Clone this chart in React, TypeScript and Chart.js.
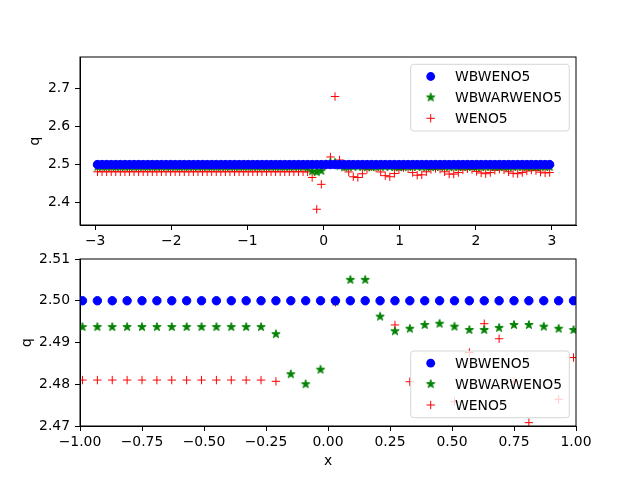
import { useEffect, useRef } from "react"
import { Chart, registerables } from "chart.js"

Chart.register(...registerables)
Chart.defaults.font.family = "'DejaVu Sans', sans-serif"
Chart.defaults.color = "#000"

// cell centres of the grid
const X_VALUES = [
  -2.97, -2.91, -2.85, -2.79, -2.73, -2.67, -2.61, -2.55, -2.49, -2.43,
  -2.37, -2.31, -2.25, -2.19, -2.13, -2.07, -2.01, -1.95, -1.89, -1.83,
  -1.77, -1.71, -1.65, -1.59, -1.53, -1.47, -1.41, -1.35, -1.29, -1.23,
  -1.17, -1.11, -1.05, -0.99, -0.93, -0.87, -0.81, -0.75, -0.69, -0.63,
  -0.57, -0.51, -0.45, -0.39, -0.33, -0.27, -0.21, -0.15, -0.09, -0.03,
  0.03, 0.09, 0.15, 0.21, 0.27, 0.33, 0.39, 0.45, 0.51, 0.57,
  0.63, 0.69, 0.75, 0.81, 0.87, 0.93, 0.99, 1.05, 1.11, 1.17,
  1.23, 1.29, 1.35, 1.41, 1.47, 1.53, 1.59, 1.65, 1.71, 1.77,
  1.83, 1.89, 1.95, 2.01, 2.07, 2.13, 2.19, 2.25, 2.31, 2.37,
  2.43, 2.49, 2.55, 2.61, 2.67, 2.73, 2.79, 2.85, 2.91, 2.97,
]

const WBWENO5 = [
  2.5, 2.5, 2.5, 2.5, 2.5, 2.5, 2.5, 2.5, 2.5, 2.5,
  2.5, 2.5, 2.5, 2.5, 2.5, 2.5, 2.5, 2.5, 2.5, 2.5,
  2.5, 2.5, 2.5, 2.5, 2.5, 2.5, 2.5, 2.5, 2.5, 2.5,
  2.5, 2.5, 2.5, 2.5, 2.5, 2.5, 2.5, 2.5, 2.5, 2.5,
  2.5, 2.5, 2.5, 2.5, 2.5, 2.5, 2.5, 2.5, 2.5, 2.5,
  2.5, 2.5, 2.5, 2.5, 2.5, 2.5, 2.5, 2.5, 2.5, 2.5,
  2.5, 2.5, 2.5, 2.5, 2.5, 2.5, 2.5, 2.5, 2.5, 2.5,
  2.5, 2.5, 2.5, 2.5, 2.5, 2.5, 2.5, 2.5, 2.5, 2.5,
  2.5, 2.5, 2.5, 2.5, 2.5, 2.5, 2.5, 2.5, 2.5, 2.5,
  2.5, 2.5, 2.5, 2.5, 2.5, 2.5, 2.5, 2.5, 2.5, 2.5,
]

const WBWARWENO5 = [
  2.4937, 2.4937, 2.4937, 2.4937, 2.4937, 2.4937, 2.4937, 2.4937, 2.4937, 2.4937,
  2.4937, 2.4937, 2.4937, 2.4937, 2.4937, 2.4937, 2.4937, 2.4937, 2.4937, 2.4937,
  2.4937, 2.4937, 2.4937, 2.4937, 2.4937, 2.4937, 2.4937, 2.4937, 2.4937, 2.4937,
  2.4937, 2.4937, 2.4937, 2.4937, 2.4937, 2.4937, 2.4937, 2.4937, 2.4937, 2.4937,
  2.4937, 2.4937, 2.4937, 2.4937, 2.4937, 2.4937, 2.492, 2.4824, 2.48, 2.4835,
  2.4998, 2.505, 2.505, 2.4962, 2.4927, 2.4933, 2.4942, 2.4945, 2.4938, 2.493,
  2.493, 2.4935, 2.4942, 2.4942, 2.4938, 2.4933, 2.493, 2.4934, 2.494, 2.4941,
  2.4938, 2.4934, 2.4932, 2.4934, 2.4939, 2.494, 2.4938, 2.4935, 2.4933, 2.4935,
  2.4939, 2.4939, 2.4937, 2.4935, 2.4934, 2.4936, 2.4938, 2.4938, 2.4937, 2.4935,
  2.4935, 2.4936, 2.4938, 2.4938, 2.4936, 2.4935, 2.4936, 2.4937, 2.4937, 2.4936,
]

const WENO5 = [
  2.481, 2.481, 2.481, 2.481, 2.481, 2.481, 2.481, 2.481, 2.481, 2.481,
  2.481, 2.481, 2.481, 2.481, 2.481, 2.481, 2.481, 2.481, 2.481, 2.481,
  2.481, 2.481, 2.481, 2.481, 2.481, 2.481, 2.481, 2.481, 2.481, 2.481,
  2.481, 2.481, 2.481, 2.481, 2.481, 2.481, 2.481, 2.481, 2.481, 2.481,
  2.481, 2.481, 2.481, 2.481, 2.481, 2.481, 2.4807, 2.466, 2.3824, 2.448,
  2.4996, 2.52, 2.679, 2.512, 2.4942, 2.4806, 2.468, 2.466, 2.4758, 2.4876,
  2.4945, 2.4909, 2.4806, 2.4708, 2.468, 2.4764, 2.4864, 2.492, 2.489, 2.479,
  2.472, 2.473, 2.481, 2.487, 2.49, 2.488, 2.481, 2.475, 2.475, 2.479,
  2.486, 2.489, 2.487, 2.482, 2.478, 2.476, 2.479, 2.485, 2.488, 2.486,
  2.481, 2.477, 2.476, 2.479, 2.483, 2.486, 2.484, 2.48, 2.478, 2.479,
]

const SERIES_NAMES = ["WBWENO5", "WBWARWENO5", "WENO5"]
const TOP_X_TICKS = [-3, -2, -1, 0, 1, 2, 3]
const TOP_Y_TICKS = [2.4, 2.5, 2.6, 2.7]
const BOTTOM_X_TICKS = [-1, -0.75, -0.5, -0.25, 0, 0.25, 0.5, 0.75, 1]
const BOTTOM_Y_TICKS = [2.47, 2.48, 2.49, 2.5, 2.51]

const BLUE = "#0000ff"
const GREEN = "#008000"
const RED = "#ff0000"
const FONT = "13.9px 'DejaVu Sans', sans-serif"

function fmt(v: number, decimals: number) {
  const s = Math.abs(v).toFixed(decimals)
  return v < -1e-9 ? "\u2212" + s : s
}

function makeStar(): HTMLCanvasElement {
  const c = document.createElement("canvas")
  c.width = 14
  c.height = 14
  const g = c.getContext("2d")!
  const R = 4.4
  const r = R * 0.382
  g.beginPath()
  for (let k = 0; k < 10; k++) {
    const a = -Math.PI / 2 + (k * Math.PI) / 5
    const rad = k % 2 === 0 ? R : r
    g.lineTo(7 + rad * Math.cos(a), 7 + rad * Math.sin(a))
  }
  g.closePath()
  g.fillStyle = GREEN
  g.fill()
  g.strokeStyle = GREEN
  g.lineWidth = 1
  g.stroke()
  return c
}

interface PanelProps {
  top: number
  height: number
  areaTop: number
  areaBottom: number
  xMin: number
  xMax: number
  yMin: number
  yMax: number
  xTicks: number[]
  yTicks: number[]
  xDecimals: number
  yDecimals: number
  legendY: number
  yTitleX: number
  showXTitle: boolean
}

function Panel(p: PanelProps) {
  const canvasRef = useRef<HTMLCanvasElement>(null)
  const chartRef = useRef<Chart | null>(null)

  useEffect(() => {
    if (!canvasRef.current) return
    if (chartRef.current) chartRef.current.destroy()
    const ctx = canvasRef.current.getContext("2d")
    if (!ctx) return

    const star = makeStar()
    const toPoints = (ys: number[]) => X_VALUES.map((x, i) => ({ x, y: ys[i] }))

    const decorate = {
      id: "decorate",
      beforeDraw(chart: Chart) {
        const { ctx: c, chartArea: a } = chart
        c.save()
        c.fillStyle = "#fff"
        c.fillRect(a.left, a.top, a.right - a.left, a.bottom - a.top)
        c.restore()
      },
      afterDatasetsDraw(chart: Chart) {
        const { ctx: c, chartArea: a } = chart
        c.save()
        // spines
        c.strokeStyle = "#000"
        c.lineWidth = 1
        c.strokeRect(a.left, a.top, a.right - a.left, a.bottom - a.top)

        // legend
        const bx = 410.7
        const by = p.legendY
        const bw = 158.6
        const bh = 66.7
        c.beginPath()
        c.roundRect(bx, by, bw, bh, 3)
        c.fillStyle = "rgba(255,255,255,0.8)"
        c.fill()
        c.strokeStyle = "rgba(204,204,204,0.8)"
        c.stroke()
        const rows = [by + 12.2, by + 33.1, by + 54]
        const mx = bx + 20
        c.font = FONT
        c.textBaseline = "middle"
        c.textAlign = "left"
        SERIES_NAMES.forEach((name, i) => {
          const y = rows[i]
          if (i === 0) {
            c.beginPath()
            c.arc(mx, y, 4.4, 0, Math.PI * 2)
            c.fillStyle = BLUE
            c.fill()
          } else if (i === 1) {
            c.drawImage(star, mx - 7, y - 7)
          } else {
            c.beginPath()
            c.moveTo(mx - 4.2, y)
            c.lineTo(mx + 4.2, y)
            c.moveTo(mx, y - 4.2)
            c.lineTo(mx, y + 4.2)
            c.strokeStyle = RED
            c.lineWidth = 1
            c.stroke()
          }
          c.fillStyle = "#000"
          c.fillText(name, bx + 44.3, y + 1)
        })

        // axis titles
        c.fillStyle = "#000"
        c.textAlign = "center"
        c.save()
        c.translate(p.yTitleX, (a.top + a.bottom) / 2)
        c.rotate(-Math.PI / 2)
        c.fillText("q", 0, 0)
        c.restore()
        if (p.showXTitle) {
          c.fillText("x", (a.left + a.right) / 2, 216)
        }
        c.restore()
      },
    }

    chartRef.current = new Chart(ctx, {
      type: "scatter",
      data: {
        datasets: [
          {
            label: SERIES_NAMES[0],
            data: toPoints(WBWENO5),
            pointStyle: "circle",
            pointRadius: 4.2,
            backgroundColor: BLUE,
            borderColor: BLUE,
            borderWidth: 1,
          },
          {
            label: SERIES_NAMES[1],
            data: toPoints(WBWARWENO5),
            pointStyle: star,
            pointRadius: 5,
            backgroundColor: GREEN,
            borderColor: GREEN,
          },
          {
            label: SERIES_NAMES[2],
            data: toPoints(WENO5),
            pointStyle: "cross",
            pointRadius: 4.2,
            borderColor: RED,
            borderWidth: 1,
          },
        ],
      },
      options: {
        animation: false,
        responsive: false,
        events: [],
        layout: { padding: { top: p.areaTop, right: 64, left: 0, bottom: 0 } },
        plugins: {
          legend: { display: false },
          tooltip: { enabled: false },
        },
        scales: {
          x: {
            type: "linear",
            min: p.xMin,
            max: p.xMax,
            afterFit: (s: any) => {
              s.height = p.height - p.areaBottom
            },
            afterBuildTicks: (s: any) => {
              s.ticks = p.xTicks.map((v) => ({ value: v }))
            },
            ticks: {
              callback: (v: any) => fmt(Number(v), p.xDecimals),
              font: { size: 13.9 },
              padding: 3,
              maxRotation: 0,
              autoSkip: false,
            },
            grid: { drawOnChartArea: false, tickLength: 5, color: "#000" },
            border: { color: "#000" },
          },
          y: {
            type: "linear",
            min: p.yMin,
            max: p.yMax,
            afterFit: (s: any) => {
              s.width = 80
            },
            afterBuildTicks: (s: any) => {
              s.ticks = p.yTicks.map((v) => ({ value: v }))
            },
            ticks: {
              callback: (v: any) => fmt(Number(v), p.yDecimals),
              font: { size: 13.9 },
              padding: 5,
              autoSkip: false,
            },
            grid: { drawOnChartArea: false, tickLength: 5, color: "#000" },
            border: { color: "#000" },
          },
        },
      },
      plugins: [decorate],
    })

    return () => {
      if (chartRef.current) {
        chartRef.current.destroy()
        chartRef.current = null
      }
    }
  }, [])

  return (
    <canvas
      ref={canvasRef}
      width={640}
      height={p.height}
      style={{ position: "absolute", left: 0, top: p.top, width: 640, height: p.height }}
    />
  )
}

export default function App() {
  return (
    <div style={{ position: "absolute", left: 0, top: 0, width: 640, height: 478, background: "#fff" }}>
      <Panel
        top={0}
        height={245}
        areaTop={57}
        areaBottom={225}
        xMin={-3.2}
        xMax={3.316}
        yMin={2.341}
        yMax={2.783}
        xTicks={TOP_X_TICKS}
        yTicks={TOP_Y_TICKS}
        xDecimals={0}
        yDecimals={1}
        legendY={64.3}
        yTitleX={35}
        showXTitle={false}
      />
      <Panel
        top={245}
        height={233}
        areaTop={14}
        areaBottom={181}
        xMin={-1}
        xMax={1}
        yMin={2.47}
        yMax={2.51}
        xTicks={BOTTOM_X_TICKS}
        yTicks={BOTTOM_Y_TICKS}
        xDecimals={2}
        yDecimals={2}
        legendY={106}
        yTitleX={27}
        showXTitle={true}
      />
    </div>
  )
}
